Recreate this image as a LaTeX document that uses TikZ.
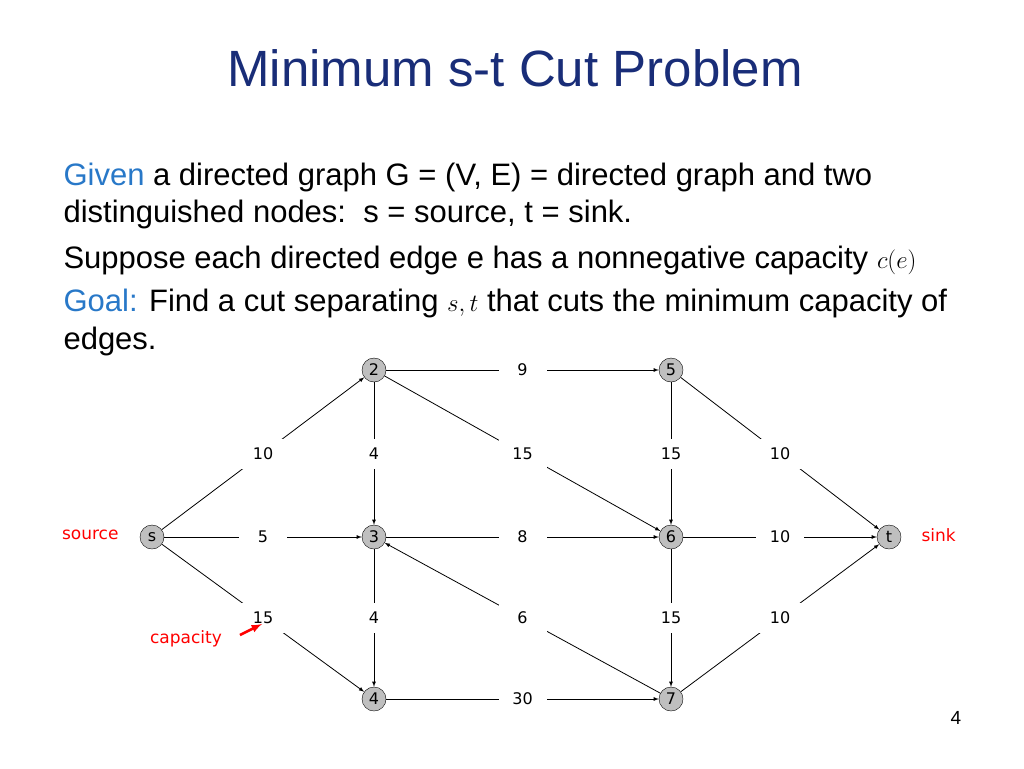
\documentclass[tikz,border=0pt]{standalone}
\usepackage{fontspec}
\setmainfont{Liberation Sans}
\newfontfamily\graphfont{DejaVu Sans}
\usetikzlibrary{arrows}
\definecolor{titleblue}{RGB}{25,45,120}
\definecolor{keyblue}{RGB}{40,120,200}
\begin{document}
\begin{tikzpicture}
  [x=1pt, y=-1pt,
   vertex/.style={
    draw=black,
    fill=black!25,
    circle,
    minimum size=24pt,
    inner sep=0pt,
    font=\graphfont\fontsize{16}{16}\selectfont},
   capbox/.style={
    fill=white,
    inner sep=0pt,
    minimum width=48pt,
    minimum height=30pt,
    font=\graphfont\fontsize{16}{16}\selectfont},
   edge/.style={->, >=latex, line width=0.8pt},
   textline/.style={anchor=base west, font=\fontsize{31}{31}\selectfont},
   note/.style={red, font=\graphfont\fontsize{17}{17}\selectfont}]

  \useasboundingbox (0,0) rectangle (1024,768);

  % title and text
  \node [anchor=base, titleblue, font=\fontsize{51}{51}\selectfont] (title) at (515,86) {Minimum s-t Cut Problem};
  \node [textline] (l1) at (60,185) {\textcolor{keyblue}{Given} a directed graph G = (V, E) = directed graph and two};
  \node [textline] (l2) at (60,222) {distinguished nodes:\ \ s = source, t = sink.};
  \node [textline] (l3) at (60,268) {Suppose each directed edge e has a nonnegative capacity $c(e)$};
  \node [textline] (l4) at (60,311) {\textcolor{keyblue}{Goal:} Find a cut separating $s,t$ that cuts the minimum capacity of};
  \node [textline] (l5) at (60,349) {edges.};

  % vertices
  \node [vertex] (s) at (152,537) {s};
  \node [vertex] (v2) at (374,370) {2};
  \node [vertex] (v3) at (374,537) {3};
  \node [vertex] (v4) at (374,699) {4};
  \node [vertex] (v5) at (671,370) {5};
  \node [vertex] (v6) at (671,537) {6};
  \node [vertex] (v7) at (671,699) {7};
  \node [vertex] (t) at (889,537) {t};

  % edges with capacities
  \draw [edge] (s) -- node [capbox] {10} (v2);
  \draw [edge] (s) -- node [capbox] {5} (v3);
  \draw [edge] (s) -- node [capbox] (c15) {15} (v4);
  \draw [edge] (v2) -- node [capbox] {9} (v5);
  \draw [edge] (v2) -- node [capbox] {4} (v3);
  \draw [edge] (v2) -- node [capbox] {15} (v6);
  \draw [edge] (v3) -- node [capbox] {8} (v6);
  \draw [edge] (v3) -- node [capbox] {4} (v4);
  \draw [edge] (v4) -- node [capbox] {30} (v7);
  \draw [edge] (v5) -- node [capbox] {15} (v6);
  \draw [edge] (v5) -- node [capbox] {10} (t);
  \draw [edge] (v6) -- node [capbox] {10} (t);
  \draw [edge] (v6) -- node [capbox] {15} (v7);
  \draw [edge] (v7) -- node [capbox] {6} (v3);
  \draw [edge] (v7) -- node [capbox] {10} (t);

  % annotations
  \node [note, anchor=east] (source) at (122,535) {source};
  \node [note, anchor=west] (sink) at (918,535) {sink};
  \node [note] (capacity) at (186,639) {capacity};
  \coordinate (capstart) at (240,635);
  \draw [red, line width=2.5pt, ->, >=latex] (capstart) -- (262,624);

  \node [font=\fontsize{19}{19}\selectfont] (page) at (956,718) {4};
\end{tikzpicture}
\end{document}
